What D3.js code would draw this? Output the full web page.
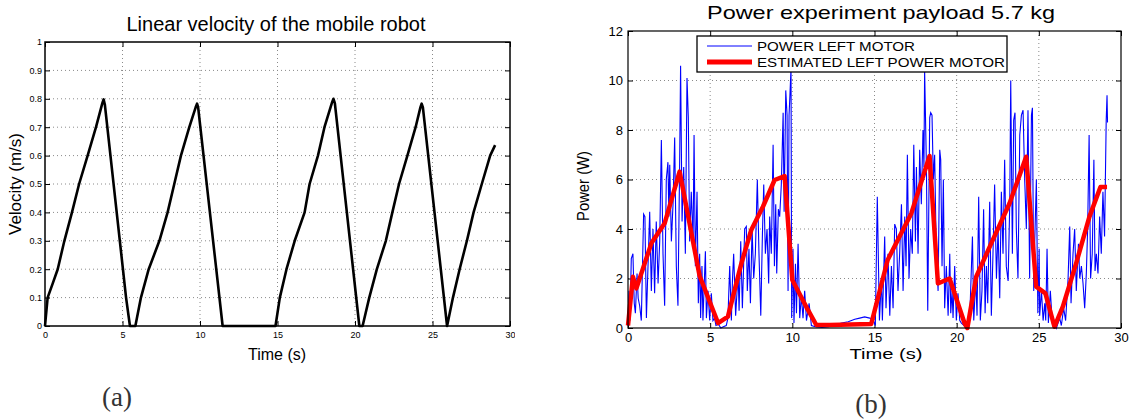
<!DOCTYPE html>
<html>
<head>
<meta charset="utf-8">
<script src="https://cdn.jsdelivr.net/npm/d3@7"></script>
<style>
body{margin:0;background:#fff;}
svg{display:block;font-family:"Liberation Sans",Arial,Helvetica,sans-serif;}
</style>
</head>
<body>
<svg id="fig" width="1129" height="420"></svg>
<script>
//fig.js

// (a) linear velocity, [time s, velocity m/s]
var velocity = [[0,0],[0.17,0.1],[0.5,0.15],[0.82,0.2],[1.25,0.3],[1.74,0.4],[2.2,0.5],[2.75,0.6],[3.29,0.7],[3.7,0.785],[3.78,0.798],[3.86,0.78],
	[5.23,0.1],[5.48,0],[5.83,0],[6.19,0.1],[6.69,0.2],[7.38,0.3],[7.91,0.4],[8.34,0.5],[8.77,0.6],[9.31,0.7],[9.72,0.77],[9.81,0.783],[9.88,0.77],
	[11.46,0],[14.87,0],[15.15,0.1],[15.58,0.2],[16.11,0.3],[16.75,0.4],[17.07,0.5],[17.61,0.6],[18.03,0.7],[18.52,0.787],[18.61,0.8],[18.7,0.785],
	[20.28,0],[20.49,0],[20.92,0.1],[21.41,0.2],[21.99,0.3],[22.41,0.4],[22.84,0.5],[23.38,0.6],[23.91,0.7],[24.22,0.77],[24.3,0.783],[24.38,0.77],
	[25.94,0],[26.32,0.1],[26.75,0.2],[27.22,0.3],[27.65,0.4],[28.18,0.5],[28.72,0.6],[29.04,0.637]];

// (b) measured power left motor, [time s, power W]
var powerLeft = [[0,0.1],[0.06,1.5],[0.12,0.3],[0.2,2.8],[0.3,3],[0.38,1],[0.45,0.6],[0.55,2.2],[0.62,1.2],[0.71,0.9],[0.81,0.3],[0.95,4.6],[1.03,4.5],[1.12,0.4],
	[1.32,4.7],[1.42,1.5],[1.52,4],[1.62,1.4],[1.72,4.3],[1.83,1.8],[1.93,3.5],[2.03,7.6],[2.13,3],[2.23,0.9],[2.33,6],[2.43,6.7],[2.49,4.5],[2.54,6.6],
	[2.64,3.5],[2.74,5],[2.84,7.7],[2.94,2.5],[3.04,0.9],[3.14,6.5],[3.2,10.6],[3.29,4.3],[3.39,6.5],[3.49,3],[3.59,10.1],[3.67,8.5],[3.75,3.5],[3.85,5.5],
	[3.96,3.5],[4.02,7.8],[4.1,2.5],[4.2,5.5],[4.28,1],[4.36,3],[4.42,0.4],[4.5,2.5],[4.56,0.3],[4.71,3.1],[4.77,0.4],[4.87,1.5],[4.97,0.3],[5.07,1.4],
	[5.17,0.3],[5.27,0.4],[5.35,0.1],[5.5,0.15],[5.65,0],[5.8,0.05],[5.98,0.1],[6.08,0.4],[6.19,2.5],[6.29,0.3],[6.36,2],[6.43,3],[6.55,0.5],[6.7,2.2],
	[6.76,0.7],[6.86,3.5],[6.96,0.8],[7.1,4],[7.2,4.1],[7.26,1.5],[7.36,3.2],[7.45,1],[7.55,4],[7.65,2],[7.75,3],[7.87,6],[7.97,3],[8.08,0.5],[8.18,3.8],
	[8.26,5.8],[8.36,3],[8.46,4],[8.56,1.8],[8.62,4.5],[8.72,3],[8.83,7.4],[8.91,2.5],[8.99,5],[9.05,2.2],[9.15,4.8],[9.23,4.5],[9.33,5.8],[9.44,8.7],
	[9.5,4.7],[9.6,9.6],[9.68,8.6],[9.74,1.5],[9.8,8.6],[9.86,9.5],[9.92,10.5],[9.96,0.4],[10.04,3.2],[10.1,0.2],[10.19,2.6],[10.25,0.6],[10.35,3.4],
	[10.45,0.4],[10.55,1.3],[10.65,0.4],[10.75,1.5],[10.86,0.3],[11.02,1],[11.16,0.1],[11.4,0.05],[11.8,0.02],[12.2,0.05],[12.6,0.12],[13,0.2],[13.4,0.25],
	[13.8,0.35],[14.1,0.4],[14.4,0.45],[14.71,0.4],[14.91,0.35],[15.05,0.1],[15.17,5.3],[15.3,0.3],[15.42,2],[15.48,0.3],[15.62,3.7],[15.7,0.8],[15.82,3],
	[15.93,0.5],[16.03,2.5],[16.13,0.8],[16.23,4.2],[16.33,4],[16.43,1.5],[16.53,3],[16.64,5],[16.74,1.5],[16.84,4.5],[16.92,2.5],[17,7],[17.1,2],[17.2,4],
	[17.3,3],[17.39,7.4],[17.49,3.5],[17.55,6.5],[17.65,3],[17.75,7.2],[17.85,5],[17.95,8],[18.01,6.5],[18.05,10.4],[18.16,6.5],[18.24,0.7],[18.36,8.5],
	[18.42,8.7],[18.5,8.6],[18.58,6],[18.66,7],[18.76,3],[18.87,1.5],[18.97,7.2],[19.03,6.8],[19.11,2.5],[19.19,6],[19.27,0.8],[19.37,2.5],[19.48,0.5],
	[19.58,3],[19.64,0.6],[19.72,1.5],[19.78,0.4],[19.88,2.5],[19.98,0.3],[20.08,1.4],[20.19,0.3],[20.29,0.2],[20.45,0.1],[20.59,0],[20.79,0.3],[20.96,3.7],
	[21.04,0.3],[21.16,2],[21.24,0.5],[21.34,5.3],[21.44,0.3],[21.54,1.5],[21.64,4.8],[21.73,0.6],[21.81,2.5],[21.89,1],[22.01,5.1],[22.11,0.5],[22.21,3],
	[22.31,5.8],[22.42,2],[22.52,4],[22.62,1.2],[22.72,5.5],[22.82,3],[22.92,6.8],[23.02,2.5],[23.13,1.9],[23.23,5],[23.29,10],[23.39,3],[23.47,8.4],
	[23.55,8.7],[23.63,4],[23.73,2],[23.84,7.8],[23.94,8.6],[24.04,8.8],[24.14,6],[24.24,4],[24.34,8.8],[24.44,2],[24.55,8.6],[24.61,8.9],[24.69,1.5],
	[24.75,3.5],[24.85,6],[24.94,0.6],[25.02,3.2],[25.05,0.5],[25.16,1.5],[25.26,0.3],[25.36,1],[25.42,0.3],[25.5,3.2],[25.58,0.2],[25.7,1.5],[25.82,0.2],
	[25.96,0.3],[26.07,0],[26.27,0.4],[26.37,0.1],[26.51,0.8],[26.63,0.3],[26.78,2],[26.88,4.1],[26.96,1],[27.08,3],[27.18,4],[27.28,1.5],[27.41,3.4],
	[27.49,2],[27.59,2.5],[27.69,1.8],[27.79,0.8],[27.89,2.2],[27.97,4],[28.06,7.8],[28.15,2],[28.25,3],[28.35,6.8],[28.42,2.3],[28.5,3],[28.6,2.2],
	[28.7,4.5],[28.8,3],[28.9,5.5],[29,3.7],[29.1,8.4],[29.15,9.4],[29.18,8.3]];

// (b) estimated left power motor
var powerEstimated = [[0,0.1],[0.3,2.07],[0.51,1.6],[1.42,3.42],[2.23,4.23],[3.14,6.32],[4.36,2.1],[5.48,0.2],[6.08,0.46],[6.9,2.61],[7.5,3.96],
	[8.21,4.9],[8.92,5.98],[9.53,6.14],[10,1.94],[10.95,0.73],[11.46,0.12],[12.27,0.12],[14.8,0.16],[15.8,2.75],[17.24,4.63],[18.35,6.95],[18.86,1.8],
	[19.57,2],[20.48,0.19],[20.65,0],[21.19,2.07],[22.2,3.56],[23.22,5.04],[24.23,6.92],[24.84,1.67],[25.4,1.4],[25.95,0.05],[26.46,0.86],[27.27,2.61],
	[28.08,4.5],[28.75,5.7],[29.15,5.7]];

var timeTicks = [0,5,10,15,20,25,30];
var velTicks = [0,0.1,0.2,0.3,0.4,0.5,0.6,0.7,0.8,0.9,1];
var powTicks = [0,2,4,6,8,10,12];
var legendNames = ["POWER LEFT MOTOR","ESTIMATED LEFT POWER MOTOR"];

var svg = d3.select("#fig");

svg.append("defs").append("clipPath").attr("id","clipA")
	.append("rect").attr("x",0).attr("y",0).attr("width",515).attr("height",420);

function panel(g, box, yDomain, yTicks, fontSize, pad){
	var x = d3.scaleLinear().domain([0,30]).range([box.left,box.right]);
	var y = d3.scaleLinear().domain(yDomain).range([box.bottom,box.top]);

	// dotted grid
	g.selectAll(".gx").data(timeTicks.slice(1,-1)).enter().append("line")
		.attr("x1",x).attr("x2",x).attr("y1",box.top).attr("y2",box.bottom)
		.style("stroke","#8a8a8a").style("stroke-dasharray","1,3");
	g.selectAll(".gy").data(yTicks.slice(1,-1)).enter().append("line")
		.attr("x1",box.left).attr("x2",box.right).attr("y1",y).attr("y2",y)
		.style("stroke","#8a8a8a").style("stroke-dasharray","1,3");

	var ax = [
		g.append("g").attr("transform","translate(0,"+box.bottom+")")
			.call(d3.axisBottom(x).tickValues(timeTicks).tickSizeInner(-5).tickSizeOuter(0).tickPadding(pad.x)),
		g.append("g").attr("transform","translate("+box.left+",0)")
			.call(d3.axisLeft(y).tickValues(yTicks).tickSizeInner(-5).tickSizeOuter(0).tickPadding(pad.y).tickFormat(function(d){return String(d);})),
		g.append("g").attr("transform","translate(0,"+box.top+")")
			.call(d3.axisTop(x).tickValues(timeTicks).tickSizeInner(-5).tickSizeOuter(0).tickFormat("")),
		g.append("g").attr("transform","translate("+box.right+",0)")
			.call(d3.axisRight(y).tickValues(yTicks).tickSizeInner(-5).tickSizeOuter(0).tickFormat(""))
	];
	ax.forEach(function(a){
		a.select(".domain").remove();
		a.selectAll("line").style("stroke","#000");
		a.selectAll("text").style("font-size",fontSize+"px").style("fill","#000")
			.style("font-family","'Liberation Sans',Arial,sans-serif");
	});
	return {x:x, y:y};
}

function frame(g, box, w){
	g.append("rect").attr("x",box.left).attr("y",box.top)
		.attr("width",box.right-box.left).attr("height",box.bottom-box.top)
		.style("fill","none").style("stroke","#000").style("stroke-width",w);
}

// ---- panel (a)
var ga = svg.append("g").attr("clip-path","url(#clipA)");
var boxA = {left:45, right:510, top:42, bottom:326};
var sa = panel(ga, boxA, [0,1], velTicks, 9, {x:6, y:3});

ga.append("path").datum(velocity)
	.attr("d", d3.line().x(function(d){return sa.x(d[0]);}).y(function(d){return sa.y(d[1]);}))
	.style("fill","none").style("stroke","#000").style("stroke-width",2.6).style("stroke-linejoin","round");
frame(ga, boxA, 1.5);

ga.append("text").attr("x",276).attr("y",31).attr("text-anchor","middle")
	.style("font-size","20px").text("Linear velocity of the mobile robot");
ga.append("text").attr("x",277).attr("y",360).attr("text-anchor","middle")
	.style("font-size","16px").text("Time (s)");
ga.append("text").attr("transform","translate(21,184) rotate(-90)").attr("text-anchor","middle")
	.style("font-size","17px").text("Velocity (m/s)");

// ---- panel (b)
var gb = svg.append("g");
var boxB = {left:628, right:1121, top:31, bottom:328};
var sb = panel(gb, boxB, [0,12], powTicks, 13, {x:5, y:5});

var lineB = d3.line().x(function(d){return sb.x(d[0]);}).y(function(d){return sb.y(d[1]);});
gb.append("path").datum(powerLeft).attr("d",lineB)
	.style("fill","none").style("stroke","#0000ff").style("stroke-width",1.1);
gb.append("path").datum(powerEstimated).attr("d",lineB)
	.style("fill","none").style("stroke","#ff0000").style("stroke-width",4.5).style("stroke-linejoin","round");
frame(gb, boxB, 1.2);

// legend
var lg = gb.append("g");
lg.append("rect").attr("x",697).attr("y",36).attr("width",310).attr("height",36)
	.style("fill","#fff").style("stroke","#000").style("stroke-width",1.3);
lg.selectAll(".ls").data(legendNames).enter().append("line")
	.attr("x1",707).attr("x2",752)
	.attr("y1",function(d,i){return 46+i*16;}).attr("y2",function(d,i){return 46+i*16;})
	.style("stroke",function(d,i){return i ? "#ff0000" : "#0000ff";})
	.style("stroke-width",function(d,i){return i ? 5 : 1;});
lg.selectAll(".lt").data(legendNames).enter().append("text")
	.attr("x",757).attr("y",function(d,i){return 51+i*16;})
	.attr("textLength",function(d,i){return i ? 248 : 158;}).attr("lengthAdjust","spacingAndGlyphs")
	.style("font-size","13.5px").text(function(d){return d;});

gb.append("text").attr("x",881).attr("y",19).attr("text-anchor","middle")
	.attr("textLength",348).attr("lengthAdjust","spacingAndGlyphs")
	.style("font-size","19px").text("Power experiment payload 5.7 kg");
gb.append("text").attr("x",886).attr("y",359).attr("text-anchor","middle")
	.attr("textLength",73).attr("lengthAdjust","spacingAndGlyphs")
	.style("font-size","15.5px").text("Time (s)");
gb.append("text").attr("transform","translate(589,186) rotate(-90)").attr("text-anchor","middle")
	.attr("textLength",70).attr("lengthAdjust","spacingAndGlyphs")
	.style("font-size","16px").text("Power (W)");

// sub-figure captions
svg.append("text").attr("x",117).attr("y",406).attr("text-anchor","middle")
	.style("font-family","'Liberation Serif','Times New Roman',serif").style("font-size","27px").style("fill","#333")
	.text("(a)");
svg.append("text").attr("x",871).attr("y",413).attr("text-anchor","middle")
	.style("font-family","'Liberation Serif','Times New Roman',serif").style("font-size","27px").style("fill","#333")
	.text("(b)");
</script>
</body>
</html>
